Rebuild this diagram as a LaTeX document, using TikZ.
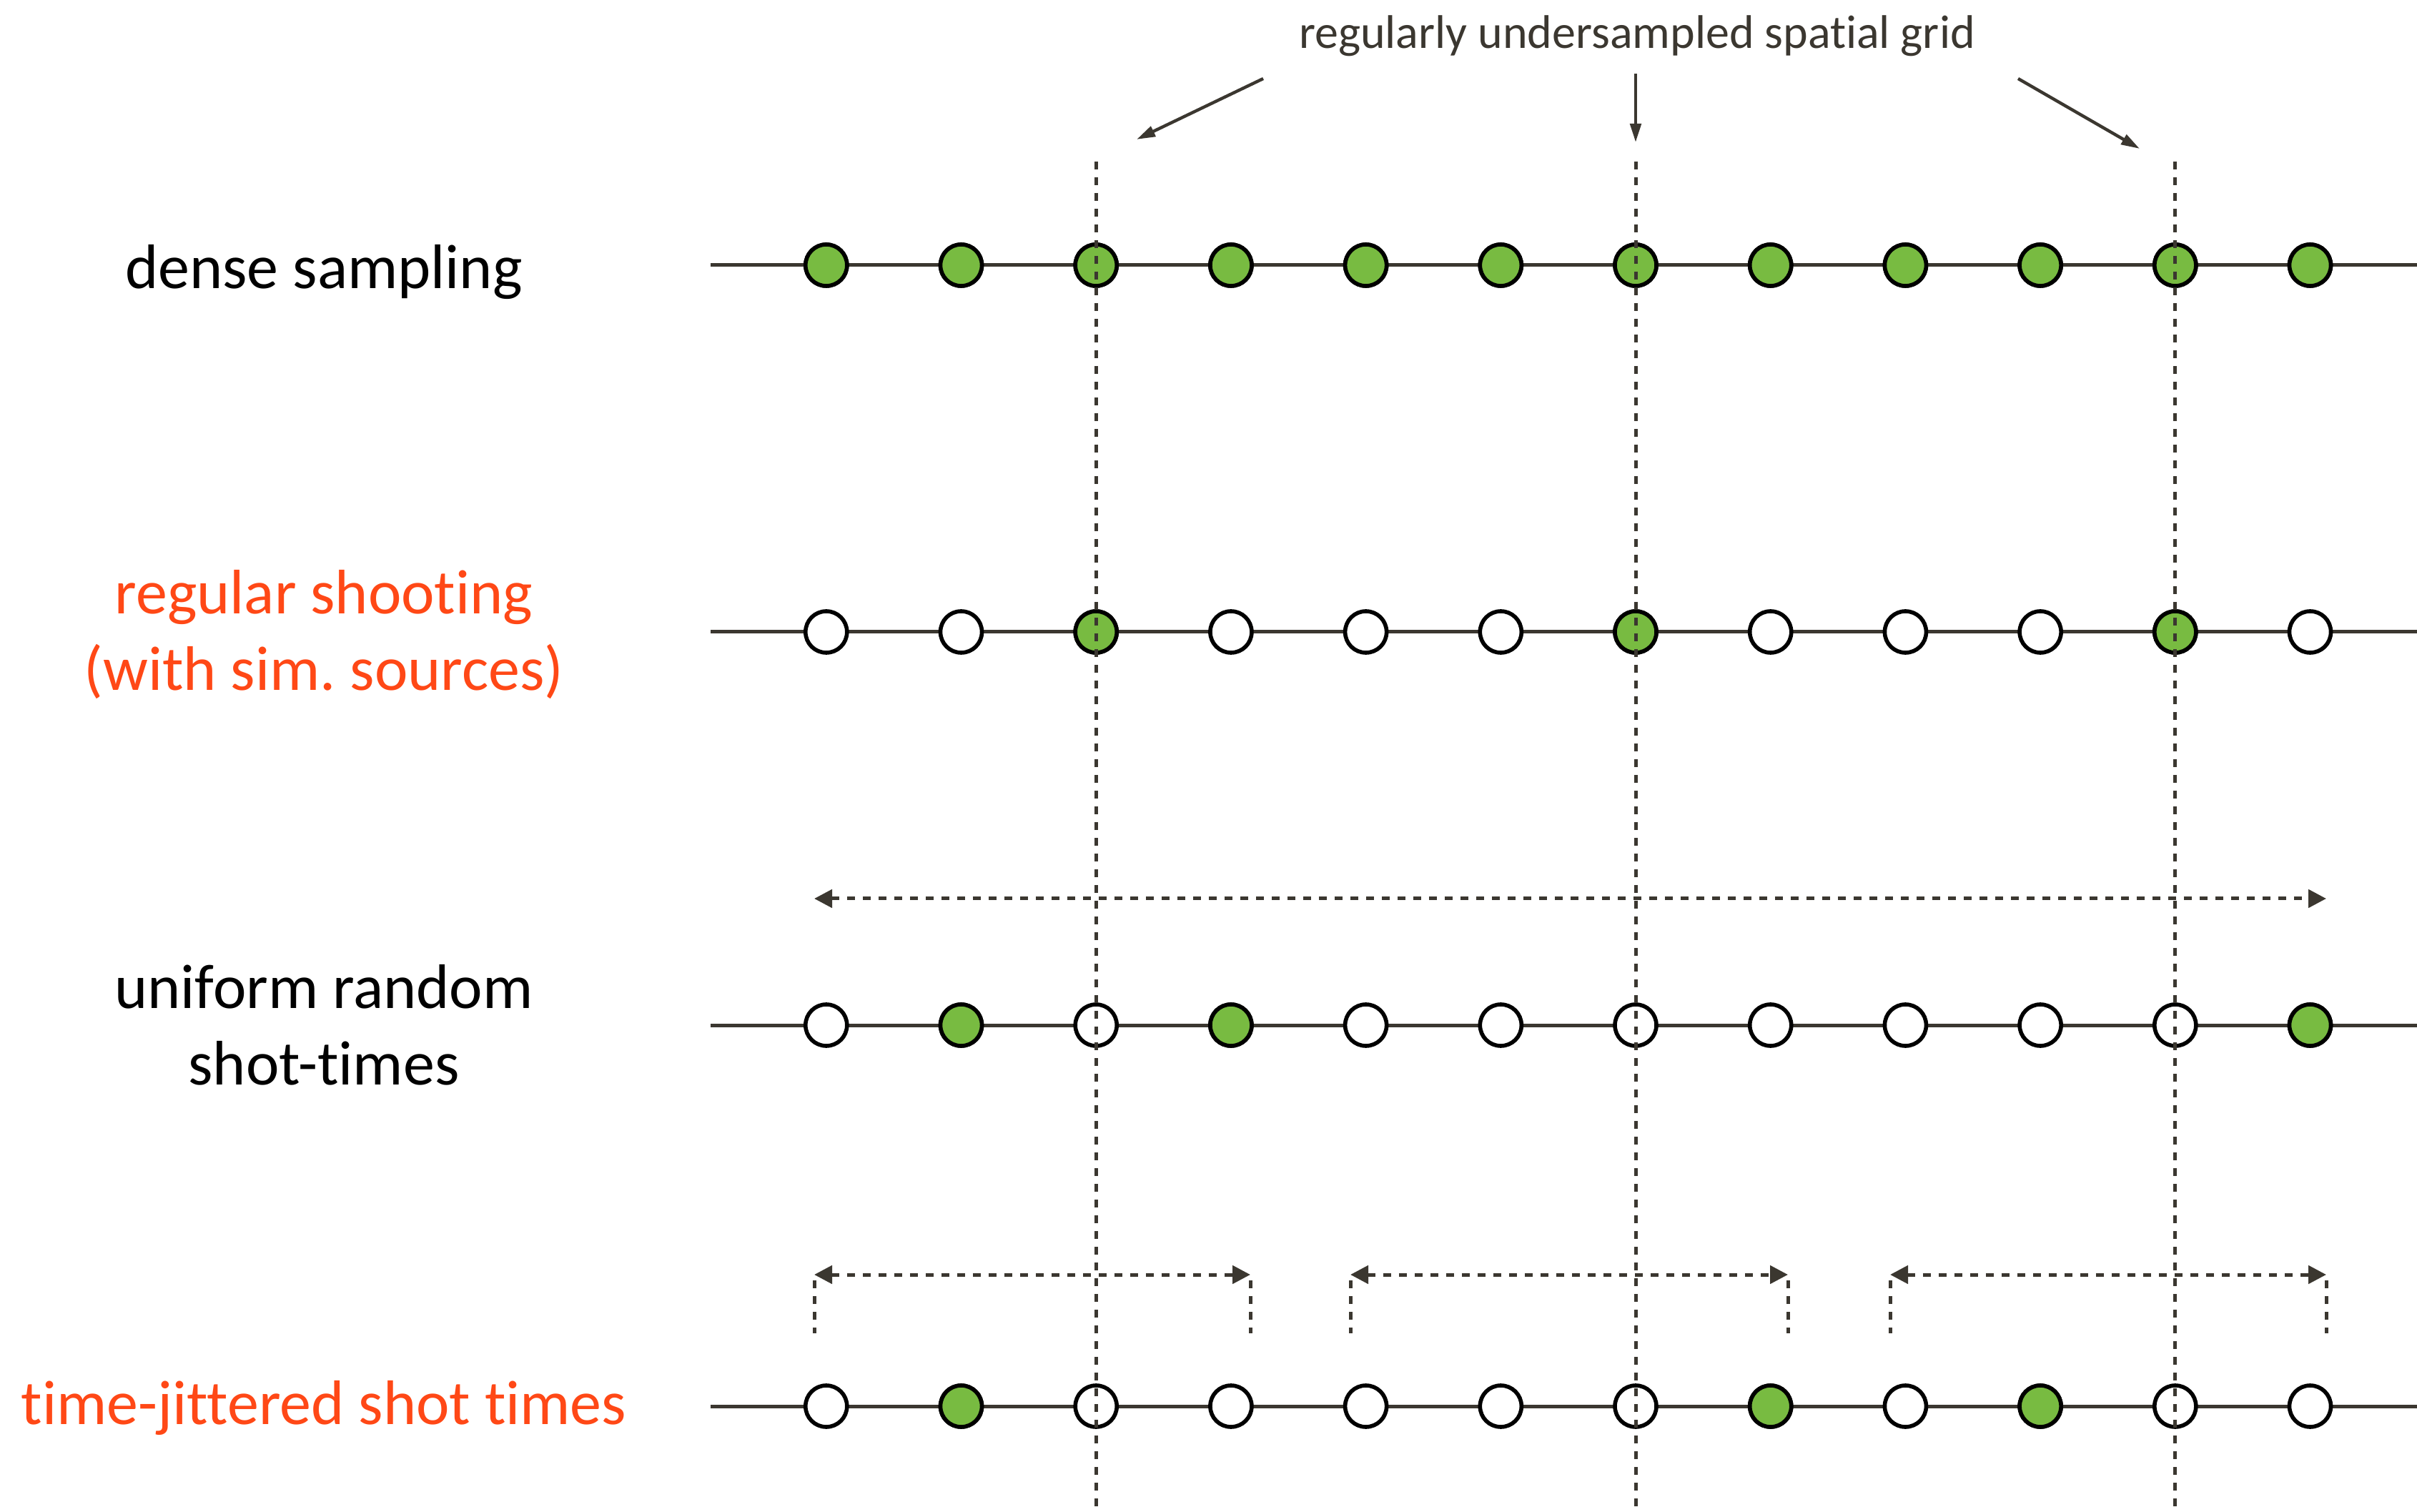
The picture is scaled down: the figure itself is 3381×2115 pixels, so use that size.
\documentclass[tikz,border=0pt]{standalone}
\usepackage{fontspec}
\setmainfont{Carlito}[Ligatures={NoCommon,NoContextual}]
\usetikzlibrary{arrows.meta}
\definecolor{leaf}{RGB}{120,187,65}
\definecolor{ink}{RGB}{59,55,48}
\definecolor{flame}{RGB}{255,72,22}
\frenchspacing

\begin{document}
\begin{tikzpicture}[x=0.25pt,y=-0.25pt,
  site/.style={circle, draw=black, line width=1.4pt, minimum size=14.5pt, inner sep=0pt, fill=white},
  hit/.style={site, fill=leaf},
  axisline/.style={draw=ink, line width=1.25pt},
  gridline/.style={draw=ink, line width=1.25pt, dash pattern=on 2.75pt off 2.75pt},
  span/.style={gridline, {Triangle[length=6.25pt,width=6.25pt]}-{Triangle[length=6.25pt,width=6.25pt]}},
  pointer/.style={draw=ink, line width=1.1pt, -{Triangle[length=6.5pt,width=3.8pt]}},
  rowlabel/.style={font=\fontsize{22}{26.75}\selectfont, align=center},
  toplabel/.style={font=\fontsize{16.5}{20}\selectfont, text=ink},
]
\useasboundingbox (0,0) rectangle (3381,2115);

% row axes
\foreach \r/\y in {1/371, 2/884, 3/1434, 4/1967} {
  \coordinate (a\r-start) at (994,\y);
  \coordinate (a\r-end) at (3381,\y);
  \draw[axisline] (a\r-start) -- (a\r-end);
}

% sample positions; filled where a shot is fired
\foreach \r/\y/\fired in {1/371/{1,2,3,4,5,6,7,8,9,10,11,12},
                          2/884/{3,7,11},
                          3/1434/{2,4,12},
                          4/1967/{2,8,10}} {
  \foreach \c in {1,...,12} {
    \pgfmathsetmacro{\xx}{1155.8+188.7*(\c-1)}
    \node[site] (r\r-c\c) at (\xx,\y) {};
  }
  \foreach \c in \fired {
    \node[hit] at (r\r-c\c) {};
  }
}

% coarse spatial grid
\foreach \g/\c in {1/3, 2/7, 3/11} {
  \path (r1-c\c) ++(0,-145) coordinate (g\g-top);
  \path (r4-c\c |- 0,2115) coordinate (g\g-bot);
  \draw[gridline] (g\g-top) -- (g\g-bot);
}

% title and pointers to the grid
\node[toplabel, anchor=base] (title) at (2290,68) {regularly undersampled spatial grid};
\coordinate (p1-from) at (1767,110);
\coordinate (p1-to) at (1590,195);
\coordinate (p2-from) at (2288,103);
\coordinate (p2-to) at (2288,199);
\coordinate (p3-from) at (2823,110);
\coordinate (p3-to) at (2993,208);
\draw[pointer] (p1-from) -- (p1-to);
\draw[pointer] (p2-from) -- (p2-to);
\draw[pointer] (p3-from) -- (p3-to);

% shot-time window for uniform random times
\coordinate (u-left) at (1139,1257);
\coordinate (u-right) at (3254,1257);
\draw[span] (u-left) -- (u-right);

% jitter windows
\foreach \w/\xa/\xb in {1/1139/1749, 2/1889/2501, 3/2644/3254} {
  \coordinate (j\w-left) at (\xa,1783);
  \coordinate (j\w-right) at (\xb,1783);
  \coordinate (j\w-lfoot) at (\xa,1865);
  \coordinate (j\w-rfoot) at (\xb,1865);
  \draw[span] (j\w-left) -- (j\w-right);
  \draw[gridline] (j\w-left) ++(0,8) -- (j\w-lfoot);
  \draw[gridline] (j\w-right) ++(0,8) -- (j\w-rfoot);
}

% row labels
\node[rowlabel] (l1) at (453,381) {dense sampling};
\node[rowlabel, text=flame] (l2) at (453,888) {regular shooting\\(with sim. sources)};
\node[rowlabel] (l3) at (453,1434) {uniform random\\shot-times};
\node[rowlabel, text=flame] (l4) at (453,1969) {time-jittered shot times};
\end{tikzpicture}
\end{document}
